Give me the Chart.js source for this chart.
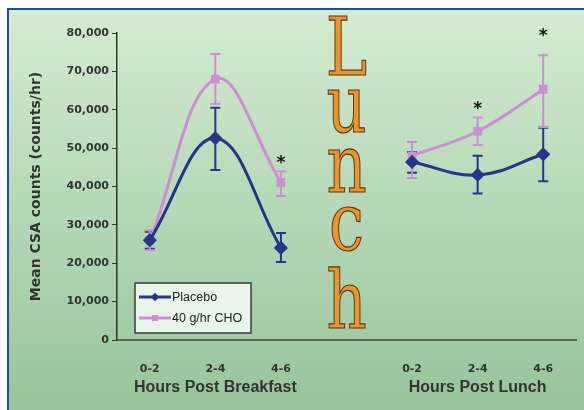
<!DOCTYPE html>
<html lang="en">
<head>
<meta charset="UTF-8">
<title>Mean CSA counts</title>
<script src="https://cdn.jsdelivr.net/npm/chart.js"></script>
<style>
    html, body { margin: 0; padding: 0; background: #fff; }
    #frame { position: relative; width: 584px; height: 410px; overflow: hidden; }
    #panel {
        position: absolute; left: 7px; top: 8px; right: 0; bottom: 0;
        border-top: 2px solid #1d4f9a; border-left: 2px solid #1d4f9a;
        background: linear-gradient(to bottom, #d4ecd1, #97c49c);
    }
    #chart-wrap { position: absolute; left: 0; top: 0; width: 584px; height: 410px; }
</style>
</head>
<body>
<div id="frame">
    <div id="panel"></div>
    <div id="chart-wrap"><canvas id="csa-chart"></canvas></div>
</div>
<script>
    // hours after each meal; the blank slot holds the "Lunch" marker
    const categories = ['0-2', '2-4', '4-6', '', '0-2', '2-4', '4-6'];
    const groupTitles = ['Hours Post Breakfast', 'Hours Post Lunch'];
    const groupCenters = [1, 5];

    const placebo     = [26000, 52600, 24000, null, 46400, 43000, 48400];
    const placeboHigh = [28200, 60500, 27900, null, 49000, 48000, 55300];
    const placeboLow  = [23800, 44300, 20300, null, 43600, 38200, 41400];

    const cho     = [25900, 68000, 41100, null, 48000, 54400, 65300];
    const choHigh = [28600, 74500, 44000, null, 51600, 58000, 74200];
    const choLow  = [23400, 61500, 37500, null, 42200, 50800, 55500];

    // significance asterisks
    const starAt = [null, null, 46900, null, null, 61200, 80200];

    const yMin = 0, yMax = 80000, yStep = 10000;
    const dividerWord = 'Lunch';

    const placeboColor = '#26358a';
    const choColor = '#cc8fd3';
    const textColor = '#333';

    const errorBars = {
        id: 'errorBars',
        beforeDatasetsDraw(chart) {
            const { ctx, scales: { x, y } } = chart;
            chart.data.datasets.forEach(ds => {
                ctx.save();
                ctx.strokeStyle = ds.borderColor;
                ctx.lineWidth = 2;
                ds.errHigh.forEach((hi, i) => {
                    const lo = ds.errLow[i];
                    if (hi == null || lo == null) return;
                    const px = x.getPixelForValue(i);
                    const top = y.getPixelForValue(hi);
                    const bot = y.getPixelForValue(lo);
                    ctx.beginPath();
                    ctx.moveTo(px, top); ctx.lineTo(px, bot);
                    ctx.moveTo(px - 5, top); ctx.lineTo(px + 5, top);
                    ctx.moveTo(px - 5, bot); ctx.lineTo(px + 5, bot);
                    ctx.stroke();
                });
                ctx.restore();
            });
        }
    };

    const decorations = {
        id: 'decorations',
        afterDraw(chart) {
            const { ctx, scales: { x, y } } = chart;
            ctx.save();

            // asterisks
            ctx.fillStyle = '#111';
            ctx.font = 'bold 17px "DejaVu Sans"';
            ctx.textAlign = 'center';
            ctx.textBaseline = 'middle';
            starAt.forEach((v, i) => {
                if (v == null) return;
                ctx.fillText('*', x.getPixelForValue(i), y.getPixelForValue(v) + 4);
            });

            // group titles under the axis
            ctx.fillStyle = textColor;
            ctx.font = 'bold 16px "Liberation Sans"';
            groupTitles.forEach((t, k) => {
                ctx.fillText(t, x.getPixelForValue(groupCenters[k]), 388);
            });

            // vertical "Lunch" in the empty slot
            const cx = x.getPixelForValue(categories.indexOf(''));
            const baselines = [75, 132, 192, 250, 328];
            ctx.font = '80px "DejaVu Serif"';
            ctx.textBaseline = 'alphabetic';
            ctx.lineWidth = 1.2;
            ctx.strokeStyle = '#5b3415';
            ctx.fillStyle = '#ea962f';
            dividerWord.split('').forEach((ch, k) => {
                ctx.save();
                ctx.translate(cx, baselines[k]);
                ctx.scale(0.78, 1);
                ctx.fillText(ch, 0, 0);
                ctx.strokeText(ch, 0, 0);
                ctx.restore();
            });

            // legend box
            const bx = 135, by = 283, bw = 116, bh = 50;
            ctx.fillStyle = 'rgba(250,255,250,0.8)';
            ctx.fillRect(bx, by, bw, bh);
            ctx.strokeStyle = '#3a3a3a';
            ctx.lineWidth = 1.5;
            ctx.strokeRect(bx, by, bw, bh);
            ctx.font = '12.5px "Liberation Sans"';
            ctx.textAlign = 'left';
            ctx.textBaseline = 'middle';
            chart.data.datasets.forEach((ds, k) => {
                const ly = by + 14 + k * 21;
                ctx.strokeStyle = ds.borderColor;
                ctx.lineWidth = 3;
                ctx.beginPath();
                ctx.moveTo(bx + 4, ly); ctx.lineTo(bx + 36, ly);
                ctx.stroke();
                ctx.fillStyle = ds.borderColor;
                ctx.save();
                ctx.translate(bx + 20, ly);
                if (ds.pointStyle === 'rectRot') ctx.rotate(Math.PI / 4);
                ctx.fillRect(-3, -3, 6, 6);
                ctx.restore();
                ctx.fillStyle = '#222';
                ctx.fillText(ds.label, bx + 37, ly + 1);
            });
            ctx.restore();
        }
    };

    new Chart(document.getElementById('csa-chart'), {
        type: 'line',
        data: {
            labels: categories,
            datasets: [
                {
                    label: 'Placebo',
                    data: placebo,
                    errHigh: placeboHigh,
                    errLow: placeboLow,
                    borderColor: placeboColor,
                    backgroundColor: placeboColor,
                    borderWidth: 3,
                    tension: 0.4,
                    pointStyle: 'rectRot',
                    pointRadius: 5,
                    spanGaps: false
                },
                {
                    label: '40 g/hr CHO',
                    data: cho,
                    errHigh: choHigh,
                    errLow: choLow,
                    borderColor: choColor,
                    backgroundColor: choColor,
                    borderWidth: 3,
                    tension: 0.4,
                    pointStyle: 'rect',
                    pointRadius: 4,
                    spanGaps: false
                }
            ]
        },
        options: {
            responsive: true,
            maintainAspectRatio: false,
            animation: false,
            layout: { padding: { top: 33, right: 7, bottom: 0, left: 0 } },
            plugins: { legend: { display: false }, tooltip: { enabled: false } },
            scales: {
                x: {
                    offset: true,
                    grid: { display: false },
                    border: { color: '#556655', width: 2 },
                    ticks: {
                        autoSkip: false, maxRotation: 0, padding: 15,
                        color: textColor,
                        font: { family: 'DejaVu Sans', size: 11, weight: 'bold' }
                    },
                    afterFit(scale) { scale.height = 70; }
                },
                y: {
                    min: yMin, max: yMax,
                    grid: { drawOnChartArea: false, drawTicks: true, tickLength: 5, tickColor: textColor },
                    border: { color: textColor, width: 1.5 },
                    ticks: {
                        stepSize: yStep, padding: 3,
                        color: textColor,
                        font: { family: 'DejaVu Sans', size: 11, weight: 'bold' },
                        callback: v => v.toLocaleString('en-US')
                    },
                    title: {
                        display: true,
                        text: 'Mean CSA counts (counts/hr)',
                        color: textColor,
                        font: { family: 'DejaVu Sans', size: 14, weight: 'bold' },
                        padding: { top: 28, bottom: 0 }
                    },
                    afterFit(scale) { scale.width = 117; }
                }
            }
        },
        plugins: [errorBars, decorations]
    });
</script>
</body>
</html>
